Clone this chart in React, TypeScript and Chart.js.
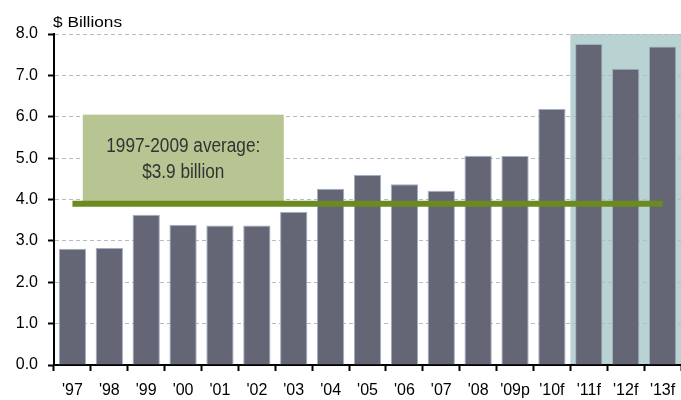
import React, { useEffect, useRef } from "react";
import { Chart, registerables } from "chart.js";

Chart.register(...registerables);

const categories = ["'97", "'98", "'99", "'00", "'01", "'02", "'03", "'04", "'05", "'06", "'07", "'08", "'09p", "'10f", "'11f", "'12f", "'13f"];
const values = [2.81, 2.83, 3.63, 3.39, 3.37, 3.37, 3.7, 4.26, 4.59, 4.37, 4.21, 5.06, 5.05, 6.19, 7.76, 7.16, 7.7];
const yTicks = [0, 1, 2, 3, 4, 5, 6, 7, 8];
const averageValue = 3.9;
const averageLabel = ["1997-2009 average:", "$3.9 billion"];
const forecastStartIndex = 14;
const unitLabel = "$ Billions";

const FONT = "'Liberation Sans', Arial, sans-serif";

const decoPlugin = {
  id: "deco",
  beforeDraw(chart: any) {
    const { ctx, chartArea, scales } = chart;
    const x = scales.x;
    const left = (x.getPixelForValue(forecastStartIndex - 1) + x.getPixelForValue(forecastStartIndex)) / 2;
    ctx.save();
    ctx.fillStyle = "#b9d3d3";
    ctx.fillRect(left, chartArea.top, chartArea.right - left, chartArea.bottom - chartArea.top);
    ctx.restore();
  },
  afterDatasetsDraw(chart: any) {
    const { ctx, scales } = chart;
    const x = scales.x;
    const y = scales.y;
    const step = x.getPixelForValue(1) - x.getPixelForValue(0);
    const bx0 = x.getPixelForValue(0) + step * 0.28;
    const bx1 = x.getPixelForValue(5) + step * 0.73;
    const by0 = y.getPixelForValue(6.05);
    const by1 = y.getPixelForValue(3.95);
    ctx.save();
    ctx.fillStyle = "#b6c592";
    ctx.fillRect(bx0, by0, bx1 - bx0, by1 - by0);
    const cx = (bx0 + bx1) / 2;
    const sx = 0.86;
    ctx.save();
    ctx.translate(cx, 0);
    ctx.scale(sx, 1);
    ctx.fillStyle = "#333333";
    ctx.font = `20px ${FONT}`;
    ctx.textAlign = "center";
    ctx.textBaseline = "middle";
    ctx.fillText(averageLabel[0], 0, by0 + 32);
    ctx.fillText(averageLabel[1], 0, by0 + 58);
    ctx.restore();
    // average line
    const ly = y.getPixelForValue(averageValue);
    ctx.strokeStyle = "#6b8a1f";
    ctx.lineWidth = 6;
    ctx.beginPath();
    ctx.moveTo(x.getPixelForValue(0), ly);
    ctx.lineTo(x.getPixelForValue(categories.length - 1), ly);
    ctx.stroke();
    ctx.restore();
  },
  afterDraw(chart: any) {
    const { ctx, chartArea } = chart;
    ctx.save();
    ctx.fillStyle = "#000";
    ctx.font = `15px ${FONT}`;
    ctx.textAlign = "left";
    ctx.textBaseline = "alphabetic";
    ctx.translate(chartArea.left - 1, 27);
    ctx.scale(1.15, 1);
    ctx.fillText(unitLabel, 0, 0);
    ctx.restore();
  },
};

export default function App() {
  const ref = useRef<HTMLCanvasElement | null>(null);
  useEffect(() => {
    document.body.style.margin = "0";
    const chart = new Chart(ref.current as HTMLCanvasElement, {
      type: "bar",
      data: {
        labels: categories,
        datasets: [
          {
            data: values,
            backgroundColor: "#646575",
            borderColor: "#9fb0c4",
            borderWidth: 1,
            categoryPercentage: 0.74,
            barPercentage: 1,
          },
        ],
      },
      options: {
        responsive: false,
        animation: false,
        layout: { padding: { top: 34, right: 0, left: 0, bottom: 0 } },
        plugins: { legend: { display: false }, tooltip: { enabled: false } },
        scales: {
          x: {
            afterFit(scale: any) {
              scale.height = 35;
              scale.paddingRight = 0;
            },
            grid: {
              offset: true,
              drawOnChartArea: false,
              drawTicks: true,
              tickColor: "#000",
              tickLength: 6,
              tickWidth: 2,
            },
            border: { color: "#000", width: 2 },
            ticks: {
              color: "#000",
              font: { family: FONT, size: 16 },
              padding: 10,
              maxRotation: 0,
              autoSkip: false,
            },
          },
          y: {
            min: 0,
            max: 8,
            afterFit(scale: any) {
              scale.width = 54;
            },
            afterBuildTicks(scale: any) {
              scale.ticks = yTicks.map((v) => ({ value: v }));
            },
            grid: {
              color: "#b8b8c8",
              lineWidth: 1,
              tickColor: "#000",
              tickLength: 6,
              tickWidth: 2,
              tickBorderDash: [],
            },
            border: { color: "#000", width: 2, dash: [4, 3] },
            ticks: {
              color: "#000",
              font: { family: FONT, size: 16 },
              padding: 10,
              callback: (v: any) => Number(v).toFixed(1),
            },
          },
        },
      },
      plugins: [decoPlugin],
    });
    return () => chart.destroy();
  }, []);
  return <canvas ref={ref} width={681} height={400} style={{ display: "block" }} />;
}
